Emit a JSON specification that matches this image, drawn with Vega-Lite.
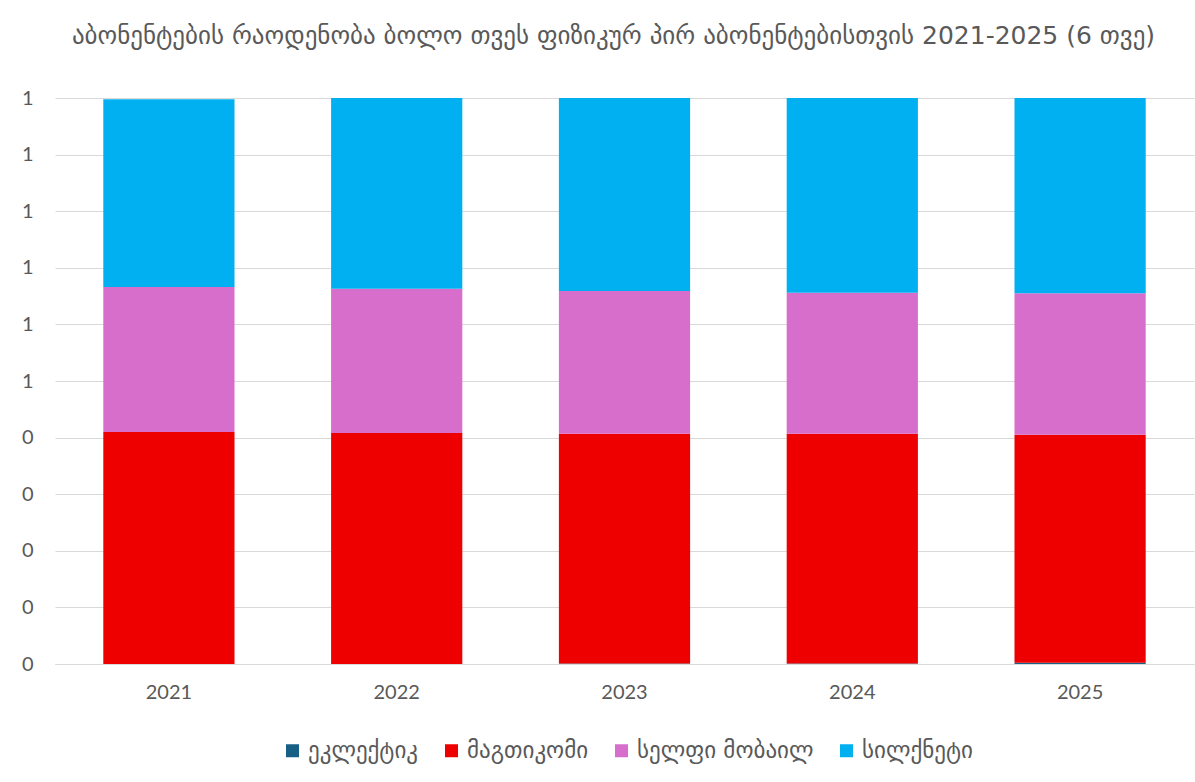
{
  "$schema": "https://vega.github.io/schema/vega-lite/v6.json",
  "width": 1139,
  "height": 566,
  "autosize": {"type": "none"},
  "padding": {"left": 55, "top": 98, "right": 1, "bottom": 118},
  "background": "white",
  "title": {
    "text": "აბონენტების რაოდენობა ბოლო თვეს ფიზიკურ პირ აბონენტებისთვის 2021-2025 (6 თვე)",
    "fontSize": 25,
    "font": "DejaVu Sans",
    "fontWeight": "normal",
    "color": "#595959",
    "anchor": "middle",
    "offset": 39,
    "dx": -11
  },
  "data": {
    "values": [
      {"year": "2021", "company": "ეკლექტიკ", "ord": 1, "share": 0.0},
      {"year": "2021", "company": "მაგთიკომი", "ord": 2, "share": 0.410},
      {"year": "2021", "company": "სელფი მობაილ", "ord": 3, "share": 0.256},
      {"year": "2021", "company": "სილქნეტი", "ord": 4, "share": 0.332},
      {"year": "2022", "company": "ეკლექტიკ", "ord": 1, "share": 0.0},
      {"year": "2022", "company": "მაგთიკომი", "ord": 2, "share": 0.408},
      {"year": "2022", "company": "სელფი მობაილ", "ord": 3, "share": 0.255},
      {"year": "2022", "company": "სილქნეტი", "ord": 4, "share": 0.337},
      {"year": "2023", "company": "ეკლექტიკ", "ord": 1, "share": 0.001},
      {"year": "2023", "company": "მაგთიკომი", "ord": 2, "share": 0.406},
      {"year": "2023", "company": "სელფი მობაილ", "ord": 3, "share": 0.252},
      {"year": "2023", "company": "სილქნეტი", "ord": 4, "share": 0.341},
      {"year": "2024", "company": "ეკლექტიკ", "ord": 1, "share": 0.001},
      {"year": "2024", "company": "მაგთიკომი", "ord": 2, "share": 0.406},
      {"year": "2024", "company": "სელფი მობაილ", "ord": 3, "share": 0.249},
      {"year": "2024", "company": "სილქნეტი", "ord": 4, "share": 0.344},
      {"year": "2025", "company": "ეკლექტიკ", "ord": 1, "share": 0.002},
      {"year": "2025", "company": "მაგთიკომი", "ord": 2, "share": 0.403},
      {"year": "2025", "company": "სელფი მობაილ", "ord": 3, "share": 0.250},
      {"year": "2025", "company": "სილქნეტი", "ord": 4, "share": 0.345}
    ]
  },
  "mark": {"type": "bar"},
  "encoding": {
    "x": {
      "field": "year",
      "type": "nominal",
      "title": null,
      "scale": {"paddingInner": 0.424, "paddingOuter": 0.212},
      "axis": {
        "labelAngle": 0,
        "labelFont": "Lato",
        "labelFontSize": 20,
        "labelColor": "#595959",
        "labelPadding": 18,
        "ticks": false,
        "tickSize": 0,
        "domain": true,
        "domainColor": "#d9d9d9",
        "domainWidth": 1
      }
    },
    "y": {
      "field": "share",
      "type": "quantitative",
      "title": null,
      "stack": "zero",
      "scale": {"domain": [0, 1], "nice": false},
      "axis": {
        "values": [0, 0.1, 0.2, 0.3, 0.4, 0.5, 0.6, 0.7, 0.8, 0.9, 1],
        "labelExpr": "datum.value >= 0.45 ? '1' : '0'",
        "labelFont": "Lato",
        "labelFontSize": 20,
        "labelColor": "#595959",
        "labelPadding": 22,
        "ticks": false,
        "tickSize": 0,
        "domain": false,
        "grid": true,
        "gridColor": "#d9d9d9",
        "gridWidth": 1
      }
    },
    "color": {
      "field": "company",
      "type": "nominal",
      "title": null,
      "scale": {
        "domain": ["ეკლექტიკ", "მაგთიკომი", "სელფი მობაილ", "სილქნეტი"],
        "range": ["#175f84", "#ee0000", "#d86ecc", "#00b0f0"]
      },
      "legend": {
        "orient": "none",
        "direction": "horizontal",
        "legendX": 226,
        "legendY": 641,
        "padding": 0,
        "symbolType": "square",
        "symbolSize": 169,
        "symbolStrokeWidth": 0,
        "symbolOpacity": 1,
        "labelFont": "DejaVu Sans",
        "labelFontSize": 23,
        "labelLimit": 0,
        "labelColor": "#595959",
        "labelOffset": 4,
        "columnPadding": 21
      }
    },
    "order": {"field": "ord", "type": "quantitative"}
  },
  "config": {
    "view": {"stroke": null}
  }
}
